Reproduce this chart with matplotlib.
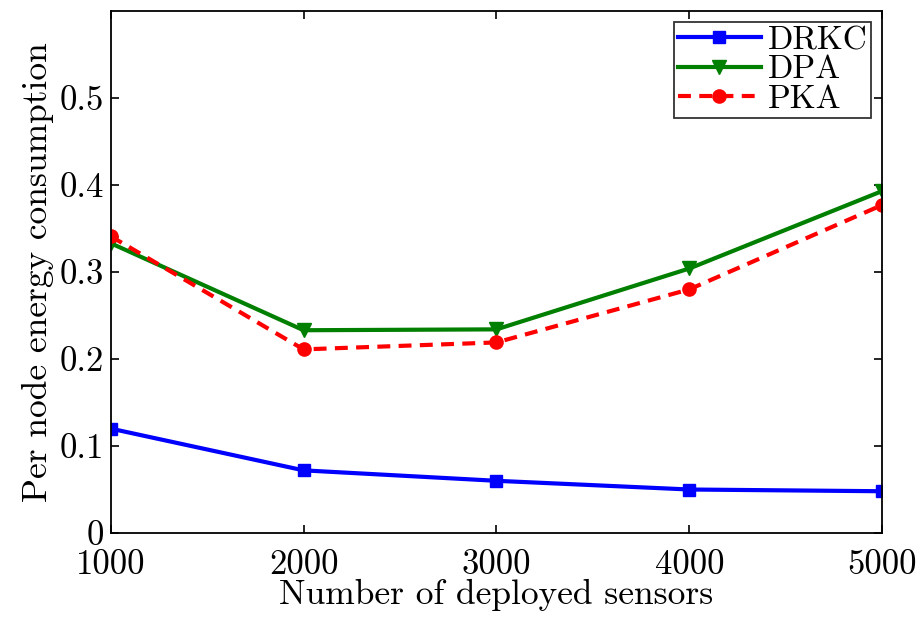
import matplotlib
matplotlib.use("Agg")
import matplotlib.pyplot as plt

# Per-node energy consumption for each key pre-distribution scheme
sensors = [1000, 2000, 3000, 4000, 5000]
drkc = [0.120, 0.072, 0.060, 0.050, 0.048]
dpa = [0.333, 0.233, 0.234, 0.304, 0.393]
pka = [0.341, 0.211, 0.219, 0.280, 0.377]

y_ticks = [0, 0.1, 0.2, 0.3, 0.4, 0.5]
y_tick_labels = ["0", "0.1", "0.2", "0.3", "0.4", "0.5"]

plt.rcParams["font.family"] = ["cmr10", "DejaVu Serif"]
plt.rcParams["mathtext.fontset"] = "cm"

fig = plt.figure(figsize=(9.22, 6.18), dpi=100)
ax = fig.add_axes([0.120, 0.1375, 0.837, 0.845])

ax.plot(sensors, drkc, color="#0000ff", lw=3, marker="s", markersize=8.5, label="DRKC")
ax.plot(sensors, dpa, color="#007f00", lw=3, marker="v", markersize=9.5, label="DPA")
ax.plot(sensors, pka, color="#ff0000", lw=3, ls=(0, (3.1, 2.0)), marker="o",
        markersize=9.5, label="PKA")

ax.set_xlim(1000, 5000)
ax.set_ylim(0, 0.6)
ax.set_xticks(sensors)
ax.set_xticklabels([str(s) for s in sensors])
ax.set_yticks(y_ticks)
ax.set_yticklabels(y_tick_labels)

ax.tick_params(direction="in", top=True, right=True, length=6, width=1.2,
               labelsize=25)
ax.tick_params(axis="x", pad=12)
ax.tick_params(axis="y", pad=5)
for spine in ax.spines.values():
    spine.set_linewidth(1.3)

ax.set_xlabel("Number of deployed sensors", fontsize=25.5, labelpad=-2)
ax.set_ylabel("Per node energy consumption", fontsize=25.5, labelpad=4)

leg = ax.legend(loc="upper right", fontsize=24, frameon=True, fancybox=False,
                edgecolor="black", borderpad=0.12, labelspacing=0.0,
                handlelength=2.5, handletextpad=0.2, borderaxespad=0.33)
leg.get_frame().set_linewidth(1.3)

fig.savefig("out.png", dpi=100)
